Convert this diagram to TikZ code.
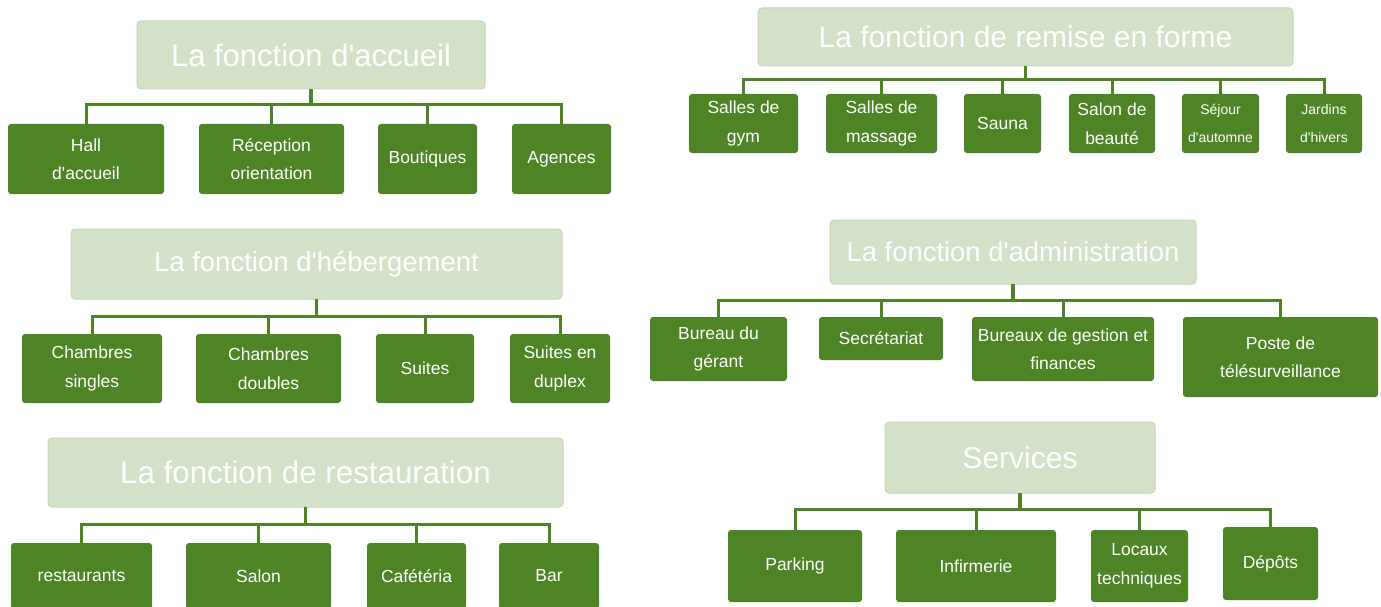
\documentclass[tikz,border=0pt]{standalone}
\usepackage{fontspec}
\newfontfamily\diagfont{Liberation Sans}
\usepackage{tikz}

\definecolor{leafgreen}{HTML}{4D8526}
\definecolor{headfill}{HTML}{D5E2CA}
\definecolor{headline}{HTML}{C6D7B8}

\tikzset{
  head/.style={draw=headline, line width=1pt, fill=headfill, rounded corners=4pt,
    text=white, inner sep=0pt, outer sep=0pt,
    font=\diagfont\fontsize{#1}{36}\selectfont},
  head/.default=31,
  leaf/.style={fill=leafgreen, rounded corners=3pt, text=white, align=center,
    inner sep=0pt, outer sep=0pt,
    font=\diagfont\fontsize{17.5}{28.5}\selectfont},
  small/.style={font=\diagfont\fontsize{14}{28}\selectfont},
  link/.style={draw=leafgreen, line width=3pt},
  stem/.style={draw=leafgreen, line width=3.5pt}
}

\begin{document}
\begin{tikzpicture}[x=1pt, y=-1pt]
  \useasboundingbox[fill=white] (0,0) rectangle (1381,607);

  % la fonction d'accueil
  \node[head=31, minimum width=348, minimum height=68] (acc) at (311,55) {La fonction d'accueil};
  \node[leaf, minimum width=156, minimum height=70] (acc1) at (86,159) {Hall\\d'accueil};
  \node[leaf, minimum width=145, minimum height=70] (acc2) at (271.5,159) {Réception\\orientation};
  \node[leaf, minimum width=99, minimum height=70] (acc3) at (427.5,159) {Boutiques};
  \node[leaf, minimum width=99, minimum height=70] (acc4) at (561.5,159) {Agences};
  \draw[stem] (acc.south) -- (acc.south |- 0,105);
  \foreach \c in {acc1,acc2,acc3,acc4}
    \draw[link] (acc.south |- 0,105) -| (\c.north);

  % la fonction d'hebergement
  \node[head=27.5, minimum width=491, minimum height=70] (heb) at (316.5,264) {La fonction d'hébergement};
  \node[leaf, minimum width=140, minimum height=69] (heb1) at (92,368.5) {Chambres\\singles};
  \node[leaf, minimum width=145, minimum height=69] (heb2) at (268.5,368.5) {Chambres\\doubles};
  \node[leaf, minimum width=98, minimum height=69] (heb3) at (425,368.5) {Suites};
  \node[leaf, minimum width=100, minimum height=69] (heb4) at (560,368.5) {Suites en\\duplex};
  \draw[stem] (heb.south) -- (heb.south |- 0,316);
  \foreach \c in {heb1,heb2,heb3,heb4}
    \draw[link] (heb.south |- 0,316) -| (\c.north);

  % la fonction de restauration
  \node[head=31.3, minimum width=515, minimum height=69] (res) at (305.5,472.5) {La fonction de restauration};
  \node[leaf, minimum width=141, minimum height=66] (res1) at (81.5,576) {restaurants};
  \node[leaf, minimum width=145, minimum height=66] (res2) at (258.5,576) {Salon};
  \node[leaf, minimum width=99, minimum height=66] (res3) at (416.5,576) {Cafétéria};
  \node[leaf, minimum width=100, minimum height=66] (res4) at (549,576) {Bar};
  \draw[stem] (res.south) -- (res.south |- 0,524);
  \foreach \c in {res1,res2,res3,res4}
    \draw[link] (res.south |- 0,524) -| (\c.north);

  % la fonction de remise en forme
  \node[head=30, minimum width=535, minimum height=58] (frm) at (1025.5,37) {La fonction de remise en forme};
  \node[leaf, minimum width=109, minimum height=59] (frm1) at (743.5,123.5) {Salles de\\gym};
  \node[leaf, minimum width=111, minimum height=59] (frm2) at (881.5,123.5) {Salles de\\massage};
  \node[leaf, minimum width=77, minimum height=59] (frm3) at (1002.5,123.5) {Sauna};
  \node[leaf, minimum width=86, minimum height=59] (frm4) at (1112,123.5) {Salon de\\beauté};
  \node[leaf, small, minimum width=77, minimum height=59] (frm5) at (1220.5,123.5) {Séjour\\d'automne};
  \node[leaf, small, minimum width=76, minimum height=59] (frm6) at (1324,123.5) {Jardins\\d'hivers};
  \draw[stem] (frm.south) -- (frm.south |- 0,80);
  \foreach \c in {frm1,frm2,frm3,frm4,frm5,frm6}
    \draw[link] (frm.south |- 0,80) -| (\c.north);

  % la fonction d'administration
  \node[head=27.4, minimum width=366, minimum height=64] (adm) at (1013,252) {La fonction d'administration};
  \node[leaf, minimum width=137, minimum height=64] (adm1) at (718.5,349) {Bureau du\\gérant};
  \node[leaf, minimum width=124, minimum height=43] (adm2) at (881,338.5) {Secrétariat};
  \node[leaf, minimum width=182, minimum height=64] (adm3) at (1063,349) {Bureaux de gestion et\\finances};
  \node[leaf, minimum width=195, minimum height=80] (adm4) at (1280.5,357) {Poste de\\télésurveillance};
  \draw[stem] (adm.south) -- (adm.south |- 0,300);
  \foreach \c in {adm1,adm2,adm3,adm4}
    \draw[link] (adm.south |- 0,300) -| (\c.north);

  % services
  \node[head=30, minimum width=270, minimum height=71] (srv) at (1020,457.5) {Services};
  \node[leaf, minimum width=134, minimum height=72] (srv1) at (795,566) {Parking};
  \node[leaf, minimum width=160, minimum height=72] (srv2) at (976,566) {Infirmerie};
  \node[leaf, minimum width=97, minimum height=72] (srv3) at (1139.5,566) {Locaux\\techniques};
  \node[leaf, minimum width=95, minimum height=73] (srv4) at (1270.5,563.5) {Dépôts};
  \draw[stem] (srv.south) -- (srv.south |- 0,509);
  \foreach \c in {srv1,srv2,srv3,srv4}
    \draw[link] (srv.south |- 0,509) -| (\c.north);
\end{tikzpicture}
\end{document}
